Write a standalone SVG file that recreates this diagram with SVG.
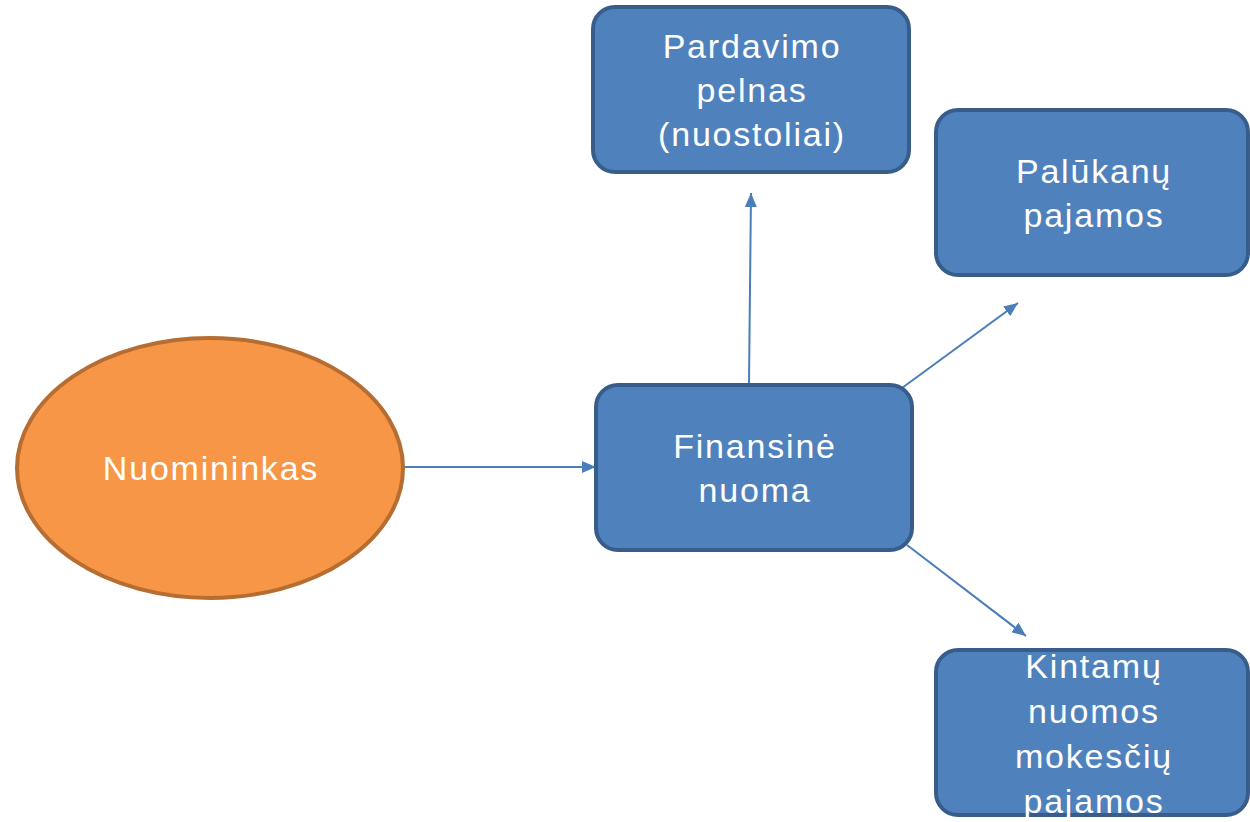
<svg xmlns="http://www.w3.org/2000/svg" width="1250" height="822" viewBox="0 0 1250 822">
  <defs>
    <marker id="arrow" viewBox="0 0 14 12" refX="14" refY="6" markerWidth="14" markerHeight="12" markerUnits="userSpaceOnUse" orient="auto">
      <path d="M0,0 L14,6 L0,12 z" fill="#4A7EBB"/>
    </marker>
    <style>
      .box { fill: #4F81BD; stroke: #385D8A; stroke-width: 4; }
      .oval { fill: #F79646; stroke: #B66D31; stroke-width: 4; }
      .label { font-family: "Liberation Sans", Arial, sans-serif; font-size: 34px; letter-spacing: 1.8px; fill: #FFFFFF; text-anchor: middle; }
      .link { stroke: #4A7EBB; stroke-width: 2; fill: none; }
    </style>
  </defs>
  <rect width="1250" height="822" fill="#FFFFFF"/>

  <g id="connectors">
    <line class="link" x1="399" y1="467" x2="596" y2="467" marker-end="url(#arrow)"/>
    <line class="link" x1="749" y1="383" x2="751" y2="193" marker-end="url(#arrow)"/>
    <line class="link" x1="902" y1="388" x2="1018" y2="303" marker-end="url(#arrow)"/>
    <line class="link" x1="907" y1="545" x2="1026" y2="636" marker-end="url(#arrow)"/>
  </g>

  <g id="nuomininkas">
    <ellipse class="oval" cx="210" cy="468" rx="193" ry="130"/>
    <text class="label" x="211" y="480">Nuomininkas</text>
  </g>

  <g id="finansine-nuoma">
    <rect class="box" x="596" y="385" width="316" height="165" rx="22"/>
    <text class="label" x="755" y="458">Finansinė</text>
    <text class="label" x="755" y="502">nuoma</text>
  </g>

  <g id="pardavimo-pelnas">
    <rect class="box" x="593" y="7" width="316" height="165" rx="22"/>
    <text class="label" x="752" y="58">Pardavimo</text>
    <text class="label" x="752" y="102">pelnas</text>
    <text class="label" x="752" y="146">(nuostoliai)</text>
  </g>

  <g id="palukanu-pajamos">
    <rect class="box" x="936" y="110" width="312" height="165" rx="22"/>
    <text class="label" x="1094" y="183">Palūkanų</text>
    <text class="label" x="1094" y="227">pajamos</text>
  </g>

  <g id="kintamu-nuomos">
    <rect class="box" x="936" y="650" width="312" height="165" rx="22"/>
    <text class="label" x="1094" y="678">Kintamų</text>
    <text class="label" x="1094" y="723">nuomos</text>
    <text class="label" x="1094" y="768">mokesčių</text>
    <text class="label" x="1094" y="813">pajamos</text>
  </g>
</svg>
